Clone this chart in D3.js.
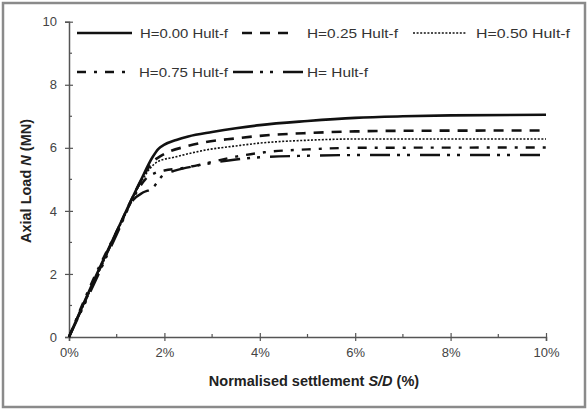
<!DOCTYPE html>
<html>
<head>
<meta charset="utf-8">
<script src="https://cdn.jsdelivr.net/npm/d3@7/dist/d3.min.js"></script>
<style>
  html, body { margin: 0; padding: 0; background: #fff; }
  svg { display: block; font-family: "Liberation Sans", Arial, sans-serif; }
</style>
</head>
<body>
<svg id="chart" width="587" height="411"></svg>
<script>
// Load–settlement curves for increasing lateral load H
const seriesNames = ["H=0.00 Hult-f", "H=0.25 Hult-f", "H=0.50 Hult-f", "H=0.75 Hult-f", "H= Hult-f"];

// settlement S/D (%) and axial load N (MN) for each series
const sH000 = [[0,0],[0.5,1.72],[1.0,3.35],[1.5,4.95],[1.75,5.7],[1.87,5.96],[2.0,6.1],[2.25,6.25],[2.5,6.36],[3.0,6.5],[3.5,6.62],[4.0,6.72],[5.0,6.85],[6.0,6.95],[7.0,7.0],[8.0,7.03],[10.0,7.05]];
const sH025 = [[0,0],[0.5,1.68],[1.0,3.33],[1.5,4.93],[1.75,5.55],[1.9,5.72],[2.1,5.88],[2.45,6.04],[2.85,6.18],[3.5,6.3],[4.0,6.38],[5.0,6.47],[6.0,6.52],[7.0,6.54],[10.0,6.55]];
const sH050 = [[0,0],[0.5,1.65],[1.0,3.3],[1.5,4.88],[1.7,5.35],[1.87,5.57],[2.2,5.7],[2.9,5.94],[3.5,6.06],[4.0,6.15],[5.0,6.24],[6.0,6.28],[10.0,6.28]];
const sH075 = [[0,0],[0.5,1.8],[1.0,3.35],[1.4,4.55],[1.6,5.0],[1.8,5.2],[2.0,5.28],[2.4,5.36],[2.9,5.52],[3.5,5.72],[4.1,5.86],[5.0,5.95],[6.0,6.0],[10.0,6.01]];
const sH100 = [[0,0],[0.5,1.6],[1.0,3.25],[1.35,4.35],[1.55,4.58],[1.75,4.72],[1.95,5.1],[2.2,5.27],[2.5,5.38],[3.0,5.52],[3.5,5.63],[4.0,5.7],[5.0,5.75],[6.0,5.77],[10.0,5.77]];

const xTicks = [0, 2, 4, 6, 8, 10];
const yTicks = [0, 2, 4, 6, 8, 10];

const svg = d3.select("#chart");

// outer frame
svg.append("rect")
  .attr("x", 3).attr("y", 3).attr("width", 582).attr("height", 404)
  .attr("fill", "none").attr("stroke", "#8a8a8a").attr("stroke-width", 2.5);

const x = d3.scaleLinear().domain([0, 10]).range([69, 546]);
const y = d3.scaleLinear().domain([0, 10]).range([337, 21.7]);

const axisColor = "#555";

// y axis: line, major ticks crossing, minor ticks
const yAxis = svg.append("g").attr("transform", `translate(${x(0)},0)`)
  .call(d3.axisLeft(y).tickValues(yTicks).tickSize(4).tickPadding(8).tickFormat(d3.format("d")));
yAxis.select(".domain").attr("stroke", axisColor).attr("stroke-width", 1.5);
yAxis.selectAll(".tick line").attr("stroke", axisColor).attr("stroke-width", 1.2).attr("x2", -4).attr("x1", 4);
yAxis.selectAll(".tick text").attr("fill", "#444").attr("font-size", 13).attr("font-family", "Liberation Sans, Arial, sans-serif");
yAxis.selectAll(".minor").data([1,3,5,7,9]).enter().append("line")
  .attr("x1", 0).attr("x2", 3).attr("y1", d => y(d)).attr("y2", d => y(d))
  .attr("stroke", axisColor).attr("stroke-width", 1.2);

// x axis
const xAxis = svg.append("g").attr("transform", `translate(0,${y(0)})`)
  .call(d3.axisBottom(x).tickValues(xTicks).tickSize(4).tickPadding(7).tickFormat(d => d + "%"));
xAxis.select(".domain").attr("stroke", axisColor).attr("stroke-width", 1.5);
xAxis.selectAll(".tick line").attr("stroke", axisColor).attr("stroke-width", 1.2).attr("y1", -4).attr("y2", 4);
xAxis.selectAll(".tick text").attr("fill", "#444").attr("font-size", 13).attr("font-family", "Liberation Sans, Arial, sans-serif");
xAxis.selectAll(".minor").data([1,3,5,7,9]).enter().append("line")
  .attr("x1", d => x(d)).attr("x2", d => x(d)).attr("y1", 0).attr("y2", -3)
  .attr("stroke", axisColor).attr("stroke-width", 1.2);

// axis titles
svg.append("text")
  .attr("x", 314).attr("y", 386).attr("text-anchor", "middle")
  .attr("font-size", 14.5).attr("font-weight", "bold").attr("fill", "#222")
  .call(t => {
    t.append("tspan").text("Normalised settlement ");
    t.append("tspan").attr("font-style", "italic").text("S/D");
    t.append("tspan").text(" (%)");
  });

svg.append("text")
  .attr("transform", "translate(31,181) rotate(-90)").attr("text-anchor", "middle")
  .attr("font-size", 14.5).attr("font-weight", "bold").attr("fill", "#222")
  .call(t => {
    t.append("tspan").text("Axial Load ");
    t.append("tspan").attr("font-style", "italic").text("N");
    t.append("tspan").text(" (MN)");
  });

// line styles per series
const styles = [
  { dash: null,                  width: 2.6 },
  { dash: "10,8",                width: 2.6 },
  { dash: "2,1.6",               width: 1.6 },
  { dash: "9,8,3,8",             width: 2.4 },
  { dash: "20,7,3,7,3,10",       width: 2.4 }
];
const seriesData = [sH000, sH025, sH050, sH075, sH100];

const line = d3.line().x(d => x(d[0])).y(d => y(d[1])).curve(d3.curveMonotoneX);

svg.append("g").selectAll("path").data(seriesData).enter().append("path")
  .attr("d", line)
  .attr("fill", "none").attr("stroke", "#111")
  .attr("stroke-width", (d, i) => styles[i].width)
  .attr("stroke-dasharray", (d, i) => styles[i].dash)
  .attr("stroke-linejoin", "round");

// legend, two rows
const legendItems = [
  { s: 0, x1: 77,  x2: 132, tx: 140, tw: 88, ty: 33 },
  { s: 1, x1: 242, x2: 291, tx: 307, tw: 91, ty: 33 },
  { s: 2, x1: 413, x2: 467, tx: 476, tw: 94, ty: 33 },
  { s: 3, x1: 77,  x2: 128, tx: 139, tw: 89, ty: 72 },
  { s: 4, x1: 233, x2: 305, tx: 307, tw: 61, ty: 72 }
];
const legend = svg.append("g");
legendItems.forEach(it => {
  legend.append("line")
    .attr("x1", it.x1).attr("x2", it.x2).attr("y1", it.ty).attr("y2", it.ty)
    .attr("stroke", "#111").attr("stroke-width", styles[it.s].width)
    .attr("stroke-dasharray", styles[it.s].dash);
  legend.append("text")
    .attr("x", it.tx).attr("y", it.ty + 5)
    .attr("font-size", 13.5).attr("fill", "#333")
    .attr("textLength", it.tw).attr("lengthAdjust", "spacingAndGlyphs")
    .text(seriesNames[it.s]);
});
</script>
</body>
</html>
